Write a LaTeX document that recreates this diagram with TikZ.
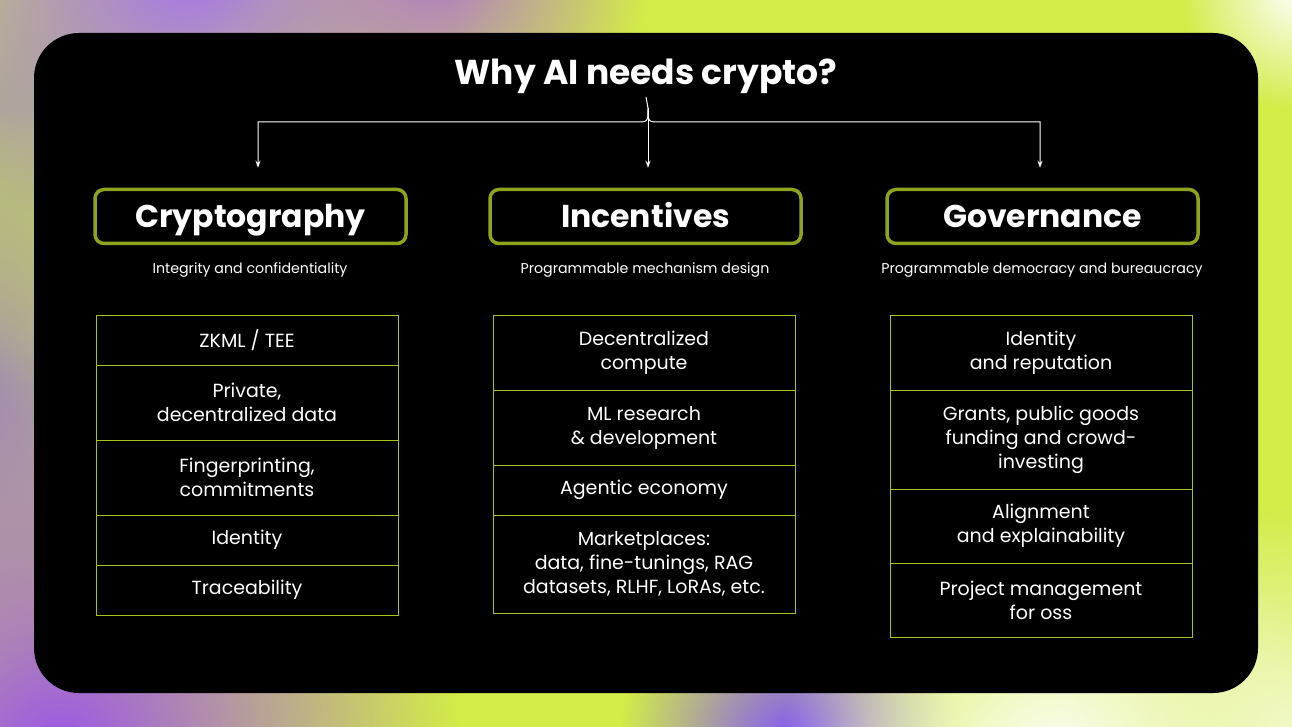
\documentclass[tikz,border=0pt]{standalone}
\usepackage{fontspec}
\setmainfont{Poppins}
\usetikzlibrary{arrows.meta, positioning, fadings}

\definecolor{olivebox}{HTML}{8DA41E}
\definecolor{limeline}{HTML}{A8C41C}
\definecolor{bgpurple}{HTML}{A46EF2}
\definecolor{bgpink}{HTML}{B07CC4}
\definecolor{bgdeep}{HTML}{9C55E8}
\definecolor{bglime}{HTML}{D4EC48}
\definecolor{bgolive}{HTML}{B2B488}
\definecolor{bggray}{HTML}{A08CB4}
\tikzfading[name=softblob, inner color=transparent!0, outer color=transparent!100]

\begin{document}
\begin{tikzpicture}[x=1pt, y=-1pt,
    header/.style={draw=olivebox, line width=3.5pt, rounded corners=9pt, minimum width=311pt, minimum height=54pt, text height=22pt, text depth=0pt, font=\fontsize{31.5}{35}\selectfont\bfseries, text=white},
    subtitle/.style={font=\fontsize{14.2}{16}\selectfont, text=white},
    cell/.style={draw=limeline, line width=0.9pt, minimum width=302pt, align=center, text=white, font=\fontsize{19}{24}\selectfont, outer sep=0pt, inner sep=0pt},
    arrow/.style={-{Stealth[length=7pt, width=5pt]}, white, line width=1pt}
]
    % Background
    \useasboundingbox (0,0) rectangle (1292,727);
    \fill[bglime] (0,0) rectangle (1292,727);
    \fill[bgolive, path fading=softblob] (0,110) circle (220);
    \fill[bggray, path fading=softblob] (-30,390) circle (260);
    \fill[bgpurple, path fading=softblob] (190,-40) circle (300);
    \fill[bgpink, path fading=softblob] (440,-30) circle (210);
    \fill[bgdeep, path fading=softblob] (60,750) circle (400);
    \fill[bgpurple!80!blue, path fading=softblob] (790,740) circle (170);
    \fill[white, path fading=softblob] (1060,770) circle (280);
    \fill[white!70!bglime, path fading=softblob] (1292,727) circle (220);
    \fill[white, path fading=softblob] (1300,-10) circle (120);
    \fill[black, rounded corners=45pt] (34,33) rectangle (1258,693);

    % Title and fork
    \node[text=white, font=\fontsize{34.5}{40}\selectfont\bfseries] (title) at (646,76) {Why AI needs crypto?};
    \coordinate (fork) at (648,108);

    % Headers
    \node[header] (crypto) at (250.5,216.5) {Cryptography};
    \node[header] (incent) at (645.5,216.5) {Incentives};
    \node[header] (govern) at (1042.5,216.5) {Governance};

    \draw[white, line width=1pt] (title.south) -- (fork);
    \draw[arrow] (fork) .. controls (648,122) .. (636,122) -| ([yshift=20pt]crypto.north -| 258,0);
    \draw[arrow] (fork) .. controls (648,122) .. (660,122) -| ([yshift=20pt]govern.north -| 1040,0);
    \draw[arrow] (fork) -- ([yshift=20pt]incent.north -| 648,0);

    % Subtitles
    \node[subtitle] (cryptosub) at (250,270) {Integrity and confidentiality};
    \node[subtitle] (incentsub) at (645,270) {Programmable mechanism design};
    \node[subtitle] (governsub) at (1042,270) {Programmable democracy and bureaucracy};

    % Cryptography column
    \node[cell, minimum height=50pt, anchor=north] (c1) at (247,315) {ZKML / TEE};
    \node[cell, minimum height=75pt, below=0pt of c1] (c2) {Private,\\decentralized data};
    \node[cell, minimum height=75pt, below=0pt of c2] (c3) {Fingerprinting,\\commitments};
    \node[cell, minimum height=50pt, below=0pt of c3] (c4) {Identity};
    \node[cell, minimum height=50pt, below=0pt of c4] (c5) {Traceability};

    % Incentives column
    \node[cell, minimum height=75pt, anchor=north] (i1) at (644,315) {Decentralized\\compute};
    \node[cell, minimum height=75pt, below=0pt of i1] (i2) {ML research\\\& development};
    \node[cell, minimum height=50pt, below=0pt of i2] (i3) {Agentic economy};
    \node[cell, minimum height=98pt, below=0pt of i3] (i4) {Marketplaces:\\data, fine-tunings, RAG\\datasets, RLHF, LoRAs, etc.};

    % Governance column
    \node[cell, minimum height=75pt, anchor=north] (g1) at (1041,315) {Identity\\and reputation};
    \node[cell, minimum height=99pt, below=0pt of g1] (g2) {Grants, public goods\\funding and crowd-\\investing};
    \node[cell, minimum height=74pt, below=0pt of g2] (g3) {Alignment\\and explainability};
    \node[cell, minimum height=74pt, below=0pt of g3] (g4) {Project management\\for oss};
\end{tikzpicture}
\end{document}
